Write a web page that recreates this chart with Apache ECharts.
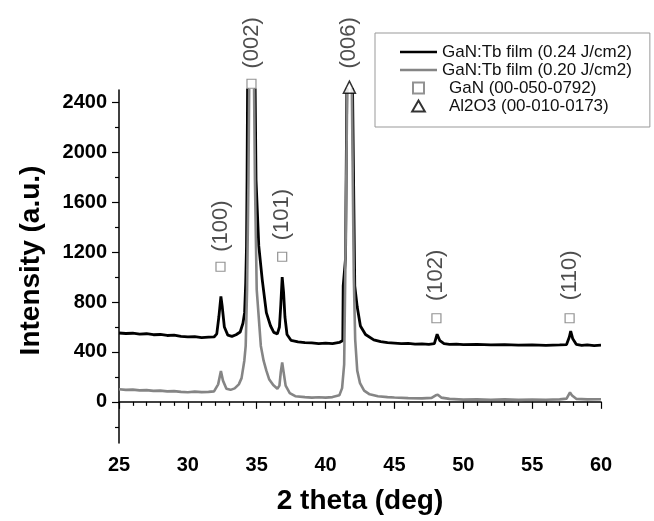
<!DOCTYPE html>
<html>
<head>
<meta charset="utf-8">
<script src="https://cdn.jsdelivr.net/npm/echarts@6/dist/echarts.min.js"></script>
<style>html,body{margin:0;padding:0;background:#fff}#c{width:654px;height:521px}</style>
</head>
<body>
<div id="c"></div>
<script>
// GaN:Tb film (0.24 J/cm2) : [2theta, intensity]
const film024 = [
  [25.0,552],[25.5,548],[26.0,550],[26.5,543],[27.0,546],[27.5,538],[28.0,540],[28.5,532],[29.0,535],[29.5,525],
  [30.0,520],[30.5,522],[31.0,515],[31.5,518],[31.9,520],[32.1,545],[32.25,680],[32.4,845],[32.5,760],[32.65,600],
  [32.9,535],[33.2,525],[33.5,538],[33.8,560],[34.0,630],[34.12,715],[34.2,950],[34.26,1250],[34.3,1800],[34.34,2600],
  [34.6,30000],[34.88,2600],[34.95,1780],[35.15,1250],[35.4,980],[35.7,715],[36.0,610],[36.24,557],[36.5,545],[36.65,600],
  [36.75,780],[36.85,1000],[36.95,880],[37.05,680],[37.2,540],[37.5,492],[38.0,480],[38.5,474],[39.0,472],[39.5,467],
  [40.0,470],[40.5,466],[41.0,476],[41.25,492],[41.28,930],[41.45,1150],[41.55,2600],[41.75,30000],[41.95,2600],[42.12,930],
  [42.3,760],[42.53,608],[42.9,540],[43.5,497],[44.0,482],[44.5,474],[45.0,470],[45.5,466],[46.0,468],[46.5,463],
  [47.0,465],[47.5,461],[47.9,466],[48.1,542],[48.3,490],[48.6,466],[49.0,461],[49.5,463],[50.0,458],[51.0,461],
  [52.0,456],[53.0,459],[54.0,454],[55.0,457],[56.0,453],[57.0,456],[57.5,459],[57.7,520],[57.8,568],[57.95,505],
  [58.2,461],[58.6,453],[59.0,456],[59.5,451],[60.0,454]
];
// GaN:Tb film (0.20 J/cm2)
const film020 = [
  [25.0,101],[25.5,96],[26.0,98],[26.5,92],[27.0,94],[27.5,88],[28.0,90],[28.5,84],[29.0,86],[29.5,80],
  [30.0,77],[30.5,82],[31.0,78],[31.5,80],[31.9,84],[32.2,140],[32.4,248],[32.55,170],[32.8,105],[33.1,96],
  [33.4,108],[33.7,140],[33.9,190],[34.1,330],[34.2,448],[34.3,900],[34.4,1782],[34.46,2600],[34.62,30000],[34.8,2600],
  [34.87,1782],[35.0,900],[35.3,448],[35.5,330],[35.7,250],[35.9,182],[36.2,135],[36.5,105],[36.65,130],[36.75,240],
  [36.85,315],[36.95,240],[37.1,130],[37.4,70],[37.8,45],[38.5,38],[39.0,34],[39.5,37],[40.0,34],[40.5,38],
  [41.0,52],[41.2,110],[41.35,300],[41.45,1200],[41.58,2600],[41.75,30000],[41.9,2600],[42.05,1000],[42.15,500],[42.3,250],
  [42.5,150],[42.8,90],[43.2,60],[43.8,45],[44.5,38],[45.0,35],[46.0,30],[47.0,28],[47.7,32],[48.0,52],
  [48.15,56],[48.4,34],[49.0,24],[50.0,18],[51.0,20],[52.0,17],[53.0,20],[54.0,16],[55.0,19],[56.0,17],
  [57.0,20],[57.5,26],[57.75,75],[57.9,50],[58.2,24],[59.0,20],[60.0,21]
];
// reference-pattern markers
const ganPeaks = [[32.37,1083],[34.62,2550],[36.85,1163],[48.05,670],[57.72,670]];
const al2o3Peaks = [[41.73,2523]];
const peakLabels = ['(100)','(002)','(101)','(102)','(110)','(006)'];
const peakLabelPos = [[32.37,1409],[34.62,2878],[36.85,1501],[48.05,1014],[57.72,1014],[41.73,2878]];
const yTicks = [0,400,800,1200,1600,2000,2400];
const yMinorTicks = [-200,200,600,1000,1400,1800,2200];
const seriesNames = ['GaN:Tb film (0.24 J/cm2)','GaN:Tb film (0.20 J/cm2)','GaN (00-050-0792)','Al2O3 (00-010-0173)'];

const FONT = '"Liberation Sans", Arial, sans-serif';
const chart = echarts.init(document.getElementById('c'), null, {renderer:'canvas'});
const YMIN = -330, YMAX = 2500;
const LINE_ICON = 'path://M0,0H37V2.5H0Z';
chart.setOption({
  animation:false,
  backgroundColor:'#fff',
  grid:{left:119, right:53, top:90, bottom:78},
  legend:{
    orient:'vertical', left:375, top:33,
    padding:[10,18,12,25], itemGap:0, itemWidth:37, itemHeight:11,
    borderColor:'#999', borderWidth:1, backgroundColor:'#fff',
    data:[
      {name:seriesNames[0], icon:LINE_ICON},
      {name:seriesNames[1], icon:LINE_ICON},
      {name:seriesNames[2], icon:'path://M0,0H10V10H0Z'},
      {name:seriesNames[3], icon:'path://M6,0L12,10.4H0Z'}
    ],
    textStyle:{fontFamily:FONT, fontSize:17, color:'#111', lineHeight:18,
      rich:{p:{fontFamily:FONT, fontSize:17, color:'#111', lineHeight:18, padding:[0,0,0,7]}}},
    formatter:function(n){ return n.indexOf('(00-')>=0 && n.indexOf('film')<0 ? '{p|'+n+'}' : n; }
  },
  xAxis:{
    type:'value', min:25, max:60, interval:5,
    name:'2 theta (deg)', nameLocation:'middle', nameGap:44,
    nameTextStyle:{fontFamily:FONT, fontSize:28, fontWeight:'bold', color:'#000'},
    axisLine:{lineStyle:{color:'#000', width:1.5}},
    axisTick:{length:7, lineStyle:{color:'#000', width:1.2}},
    minorTick:{show:true, splitNumber:5, length:4, lineStyle:{color:'#000', width:1.2}},
    axisLabel:{fontFamily:FONT, fontSize:20, fontWeight:'bold', color:'#000', margin:12},
    splitLine:{show:false}
  },
  yAxis:[{
    type:'value', min:YMIN, max:YMAX,
    name:'Intensity (a.u.)', nameLocation:'middle', nameGap:74,
    nameTextStyle:{fontFamily:FONT, fontSize:28, fontWeight:'bold', color:'#000', padding:[0,0,0,12]},
    axisLine:{show:true, lineStyle:{color:'#000', width:1.5}},
    axisTick:{show:true, length:7, customValues:yTicks, lineStyle:{color:'#000', width:1.2}},
    axisLabel:{fontFamily:FONT, fontSize:20, fontWeight:'bold', color:'#000', margin:12,
      customValues:yTicks, formatter:function(v){ return String(v); }},
    splitLine:{show:false}
  },{
    type:'value', min:YMIN, max:YMAX, position:'left',
    axisLine:{show:false},
    axisTick:{show:true, length:4, customValues:yMinorTicks, lineStyle:{color:'#000', width:1.2}},
    axisLabel:{show:false},
    splitLine:{show:false}
  }],
  series:[
    {name:seriesNames[0], type:'line', data:film024, symbol:'none', clip:true,
     lineStyle:{color:'#000', width:2.8}, itemStyle:{color:'#000'}, z:2},
    {name:seriesNames[1], type:'line', data:film020, symbol:'none', clip:true,
     lineStyle:{color:'#858585', width:2.6}, itemStyle:{color:'#858585'}, z:3},
    {name:seriesNames[2], type:'scatter', data:ganPeaks, symbol:'rect', symbolSize:9, clip:false,
     itemStyle:{color:'#fff', borderColor:'#777', borderWidth:1.2}, z:5},
    {name:seriesNames[3], type:'scatter', data:al2o3Peaks, symbol:'triangle', symbolSize:12, clip:false,
     itemStyle:{color:'#fff', borderColor:'#000', borderWidth:1.5}, z:5},
    {name:'labels', type:'scatter', symbolSize:0, clip:false, silent:true, z:6,
     data:peakLabelPos.map(function(p,i){return {value:p, name:peakLabels[i]};}),
     label:{show:true, position:'inside', rotate:90, formatter:'{b}',
       fontFamily:FONT, fontSize:22, color:'#222', align:'center', verticalAlign:'middle'}}
  ]
});
</script>
</body>
</html>
